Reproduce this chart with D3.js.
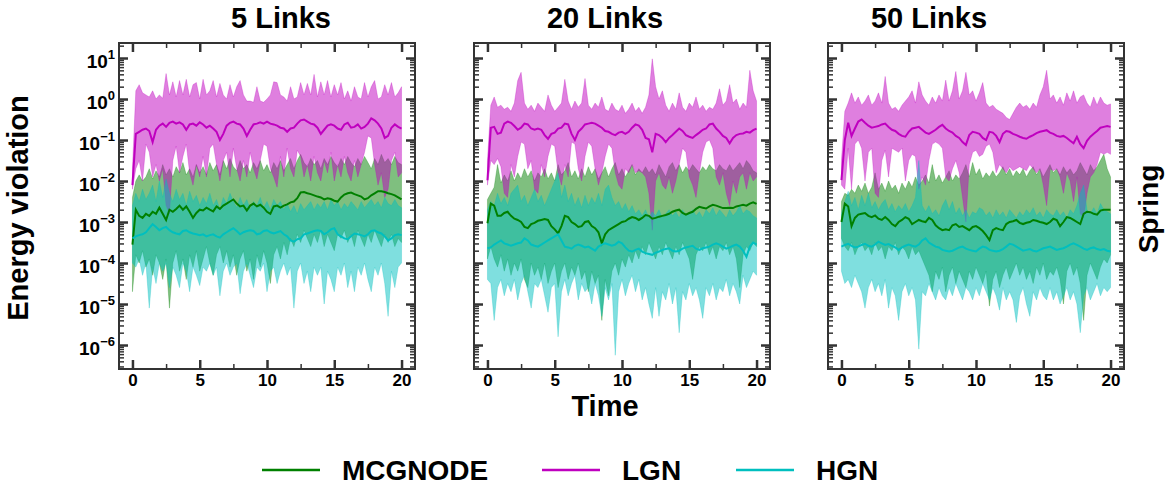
<!DOCTYPE html>
<html>
<head>
<meta charset="utf-8">
<script src="https://cdn.jsdelivr.net/npm/d3@7"></script>
<style>
body { margin: 0; background: #fff; }
text { font-family: "Liberation Sans", Arial, sans-serif; font-weight: bold; fill: #000; }
</style>
</head>
<body>
<svg id="chart" width="1172" height="504"></svg>
<script>
var PANEL_W = 296;
var PANEL_H = 326;
var PANEL_TOP = 43;
var PANEL_LEFT = [119, 474, 828];
var TITLE_X = [281, 605, 929];
var AXIS_COLOR = '#333';

var panelTitles = ['5 Links', '20 Links', '50 Links'];
var models = ['MCGNODE', 'LGN', 'HGN'];
var modelColors = ['#008000', '#bf00bf', '#00bfbf'];
var xTicks = [0, 5, 10, 15, 20];
var xMinorTicks = [2.5, 7.5, 12.5, 17.5];
var yDecades = [-6, -5, -4, -3, -2, -1, 0, 1];

var time = [0, 0.25, 0.5, 0.75, 1, 1.25, 1.5, 1.75, 2, 2.25,
    2.5, 2.75, 3, 3.25, 3.5, 3.75, 4, 4.25, 4.5, 4.75,
    5, 5.25, 5.5, 5.75, 6, 6.25, 6.5, 6.75, 7, 7.25,
    7.5, 7.75, 8, 8.25, 8.5, 8.75, 9, 9.25, 9.5, 9.75,
    10, 10.25, 10.5, 10.75, 11, 11.25, 11.5, 11.75, 12, 12.25,
    12.5, 12.75, 13, 13.25, 13.5, 13.75, 14, 14.25, 14.5, 14.75,
    15, 15.25, 15.5, 15.75, 16, 16.25, 16.5, 16.75, 17, 17.25,
    17.5, 17.75, 18, 18.25, 18.5, 18.75, 19, 19.25, 19.5, 19.75,
    20];

// all series: log10 of the energy violation, median (Mid) and band (Lo / Hi)
// ---- 5 links
var mcg5Mid = [-3.55,-2.7,-2.85,-2.9,-2.8,-2.85,-2.75,-2.8,-2.65,-2.8,
    -2.95,-2.7,-2.75,-2.68,-2.6,-2.7,-2.62,-2.75,-2.9,-2.78,
    -2.7,-2.72,-2.65,-2.7,-2.74,-2.62,-2.68,-2.6,-2.55,-2.5,
    -2.45,-2.55,-2.62,-2.6,-2.72,-2.6,-2.55,-2.62,-2.58,-2.65,
    -2.75,-2.8,-2.62,-2.6,-2.65,-2.6,-2.57,-2.52,-2.5,-2.42,
    -2.28,-2.27,-2.3,-2.32,-2.35,-2.38,-2.4,-2.45,-2.42,-2.44,
    -2.48,-2.5,-2.4,-2.33,-2.3,-2.28,-2.32,-2.35,-2.38,-2.45,
    -2.42,-2.35,-2.3,-2.25,-2.25,-2.27,-2.3,-2.32,-2.35,-2.4,
    -2.45];
var mcg5Hi = [-2.4,-2.0,-1.85,-2.0,-1.9,-1.7,-1.95,-1.75,-1.9,-1.6,
    -1.85,-1.7,-1.9,-1.65,-1.8,-1.55,-1.85,-1.7,-1.9,-1.6,
    -1.8,-1.65,-1.85,-1.55,-1.75,-1.6,-1.85,-1.5,-1.7,-1.45,
    -1.65,-1.75,-1.5,-1.7,-1.6,-1.8,-1.55,-1.7,-1.5,-1.75,
    -1.6,-1.8,-1.55,-1.7,-1.5,-1.75,-1.6,-1.45,-1.7,-1.5,
    -1.35,-1.55,-1.65,-1.45,-1.6,-1.5,-1.7,-1.45,-1.6,-1.4,
    -1.55,-1.65,-1.45,-1.6,-1.4,-1.55,-1.65,-1.45,-1.6,-1.4,
    -1.55,-1.7,-1.45,-1.6,-1.35,-1.55,-1.45,-1.6,-1.4,-1.55,
    -1.6];
var mcg5Lo = [-4.7,-3.8,-4.0,-3.7,-4.1,-3.9,-4.3,-3.8,-4.0,-4.4,
    -3.9,-5.1,-4.0,-3.7,-4.2,-3.9,-4.4,-3.8,-4.1,-3.7,
    -4.2,-3.9,-3.6,-4.0,-4.3,-3.8,-3.6,-4.0,-3.7,-4.1,
    -3.8,-4.3,-3.9,-3.7,-4.2,-3.9,-4.4,-3.8,-4.1,-3.7,
    -4.0,-4.5,-3.8,-3.6,-3.9,-3.5,-3.8,-3.4,-3.6,-3.3,
    -3.5,-3.2,-3.4,-3.6,-3.3,-3.5,-3.2,-3.6,-3.3,-3.5,
    -3.7,-3.3,-3.4,-3.2,-3.5,-3.3,-3.6,-3.2,-3.4,-3.6,
    -3.3,-3.5,-3.2,-3.4,-3.6,-3.3,-3.5,-3.3,-3.6,-3.4,
    -3.5];
var lgn5Mid = [-2.1,-0.85,-0.8,-0.75,-0.72,-0.78,-1.05,-0.75,-0.65,-0.6,
    -0.68,-0.58,-0.55,-0.6,-0.57,-0.62,-0.75,-0.62,-0.6,-0.65,
    -0.57,-0.62,-0.7,-0.65,-0.72,-0.8,-1.0,-0.85,-0.65,-0.58,
    -0.55,-0.6,-0.62,-0.72,-0.9,-0.75,-0.62,-0.6,-0.57,-0.6,
    -0.55,-0.6,-0.62,-0.65,-0.7,-0.72,-0.8,-0.72,-0.7,-0.6,
    -0.52,-0.5,-0.55,-0.6,-0.62,-0.7,-0.85,-0.75,-0.65,-0.62,
    -0.65,-0.72,-0.75,-0.62,-0.58,-0.7,-0.68,-0.62,-0.72,-0.68,
    -0.6,-0.47,-0.52,-0.6,-0.72,-0.95,-0.9,-0.7,-0.62,-0.68,
    -0.72];
var lgn5Hi = [-1.7,0.2,0.35,0.15,0.1,0.05,0.2,0.0,0.1,0.02,
    0.62,0.1,0.42,0.05,0.45,0.1,0.48,0.05,0.35,0.4,
    0.0,0.48,0.1,0.2,0.45,0.05,0.38,0.1,0.0,0.35,
    0.05,0.3,0.45,0.1,-0.05,-0.05,-0.08,0.3,-0.05,-0.08,
    0.0,0.1,0.42,0.4,0.1,0.05,-0.05,0.3,0.0,0.05,
    0.4,0.1,0.38,0.1,0.6,0.05,0.42,0.1,0.45,0.05,
    0.35,0.1,0.4,0.0,0.2,-0.05,0.3,0.05,0.0,0.4,
    0.05,0.3,0.45,0.0,0.05,0.35,0.1,0.4,0.05,0.15,
    0.3];
var lgn5Lo = [-2.2,-1.7,-1.5,-2.0,-1.1,-1.3,-1.9,-1.6,-2.0,-1.7,
    -2.6,-2.8,-1.5,-1.15,-1.8,-1.4,-1.1,-1.8,-2.1,-1.6,
    -1.9,-1.4,-1.9,-1.2,-1.1,-1.6,-2.0,-1.5,-1.3,-1.9,
    -1.2,-1.7,-2.0,-1.5,-1.9,-1.3,-1.7,-1.95,-1.5,-1.1,
    -1.15,-1.7,-1.9,-2.15,-1.4,-1.9,-1.2,-1.7,-1.9,-1.25,
    -1.4,-1.9,-1.6,-2.0,-1.4,-1.8,-2.0,-1.5,-1.8,-1.3,
    -2.0,-1.6,-1.9,-1.4,-1.8,-2.0,-1.5,-1.9,-1.6,-1.3,
    -0.9,-0.95,-1.6,-2.1,-1.8,-2.4,-2.2,-1.5,-1.3,-1.9,
    -1.8];
var hgn5Mid = [-3.4,-3.35,-3.32,-3.3,-3.25,-3.15,-3.05,-3.12,-3.2,-3.15,
    -3.12,-3.2,-3.25,-3.28,-3.3,-3.22,-3.2,-3.25,-3.28,-3.3,
    -3.32,-3.3,-3.35,-3.32,-3.3,-3.35,-3.38,-3.3,-3.25,-3.2,
    -3.15,-3.22,-3.3,-3.25,-3.22,-3.2,-3.22,-3.3,-3.28,-3.22,
    -3.2,-3.25,-3.28,-3.25,-3.22,-3.3,-3.35,-3.45,-3.48,-3.42,
    -3.4,-3.3,-3.28,-3.25,-3.22,-3.2,-3.22,-3.3,-3.25,-3.18,
    -3.15,-3.3,-3.35,-3.4,-3.42,-3.35,-3.28,-3.3,-3.32,-3.35,
    -3.3,-3.22,-3.2,-3.25,-3.28,-3.35,-3.45,-3.4,-3.32,-3.3,
    -3.32];
var hgn5Hi = [-2.6,-2.3,-2.5,-2.2,-2.45,-2.3,-2.1,-2.5,-2.0,-2.4,
    -1.95,-2.3,-2.5,-2.2,-2.45,-2.3,-2.6,-2.25,-2.5,-2.35,
    -2.6,-2.4,-2.55,-2.3,-2.6,-2.45,-2.7,-2.4,-2.55,-2.3,
    -2.5,-2.65,-2.4,-2.6,-2.45,-2.7,-2.5,-2.6,-2.4,-2.65,
    -2.5,-2.7,-2.45,-2.6,-2.5,-2.7,-2.55,-2.75,-2.6,-2.8,
    -2.55,-2.7,-2.6,-2.5,-2.7,-2.55,-2.65,-2.5,-2.7,-2.45,
    -2.6,-2.5,-2.7,-2.55,-2.65,-2.5,-2.6,-2.7,-2.5,-2.65,
    -2.55,-2.45,-2.6,-2.5,-2.65,-2.4,-2.55,-2.6,-2.45,-2.6,
    -2.65];
var hgn5Lo = [-4.0,-4.1,-3.9,-4.3,-4.0,-5.1,-4.1,-4.5,-4.0,-4.2,
    -4.0,-4.6,-4.1,-4.3,-4.6,-4.0,-4.2,-4.7,-4.1,-4.3,
    -4.55,-4.1,-4.2,-4.0,-4.3,-4.1,-4.8,-4.2,-4.0,-4.3,
    -4.1,-4.0,-4.75,-4.2,-4.0,-4.3,-4.6,-4.1,-4.2,-4.0,
    -4.7,-4.2,-4.1,-4.5,-4.2,-4.0,-4.3,-4.1,-5.1,-4.2,
    -4.0,-4.5,-4.2,-4.7,-4.1,-4.3,-4.1,-5.0,-4.2,-4.4,
    -4.7,-4.1,-4.3,-4.0,-4.6,-4.2,-4.7,-4.1,-4.3,-4.0,
    -4.4,-4.7,-4.1,-4.3,-4.0,-4.5,-5.3,-4.2,-4.6,-4.1,
    -4.0];

// ---- 20 links
var mcg20Mid = [-3.03,-2.55,-2.6,-2.85,-2.85,-2.78,-2.75,-2.85,-2.92,-2.95,
    -3.0,-3.12,-3.15,-3.05,-3.02,-2.97,-2.95,-2.93,-2.95,-3.1,
    -3.18,-3.28,-3.1,-2.85,-2.88,-3.0,-3.05,-3.12,-3.1,-3.0,
    -2.98,-3.1,-3.15,-3.25,-3.52,-3.3,-3.2,-3.15,-3.1,-3.05,
    -3.0,-2.98,-2.92,-2.88,-2.9,-2.95,-2.9,-2.83,-2.85,-2.92,
    -2.9,-2.87,-2.85,-2.83,-2.8,-2.75,-2.72,-2.7,-2.78,-2.82,
    -2.78,-2.75,-2.68,-2.63,-2.65,-2.67,-2.62,-2.58,-2.6,-2.63,
    -2.66,-2.66,-2.65,-2.66,-2.62,-2.6,-2.58,-2.6,-2.55,-2.52,
    -2.56];
var mcg20Hi = [-2.45,-2.3,-2.15,-1.6,-2.05,-1.85,-2.0,-1.75,-2.0,-1.8,
    -1.95,-1.7,-1.9,-1.75,-2.0,-1.8,-1.9,-1.7,-1.95,-1.8,
    -2.0,-1.6,-1.85,-1.75,-1.55,-1.9,-1.75,-1.95,-1.7,-1.9,
    -1.65,-1.85,-1.7,-1.95,-1.8,-1.65,-1.9,-1.7,-1.55,-1.85,
    -1.7,-1.9,-1.75,-1.6,-1.85,-1.7,-1.8,-1.65,-1.8,-1.7,
    -1.85,-1.6,-1.75,-1.9,-1.65,-1.55,-1.75,-1.6,-1.8,-1.65,
    -1.75,-1.6,-1.7,-1.8,-1.65,-1.75,-1.6,-1.7,-1.75,-1.6,
    -1.7,-1.75,-1.6,-1.75,-1.65,-1.55,-1.7,-1.5,-1.6,-1.75,
    -1.8];
var mcg20Lo = [-3.9,-3.6,-3.9,-4.1,-3.8,-4.2,-3.9,-4.3,-4.0,-4.2,
    -3.9,-4.4,-4.6,-4.0,-4.3,-4.1,-4.4,-4.0,-4.5,-4.2,
    -4.0,-4.6,-4.2,-4.0,-4.4,-4.1,-4.3,-4.0,-4.4,-4.2,
    -4.7,-4.2,-4.5,-4.3,-5.4,-4.4,-4.8,-4.2,-4.0,-4.3,
    -3.9,-4.1,-3.8,-4.0,-3.7,-3.9,-3.6,-3.8,-3.5,-3.7,
    -3.9,-3.6,-3.8,-3.5,-3.7,-3.9,-3.6,-3.8,-3.5,-3.7,
    -3.9,-4.4,-3.8,-3.6,-3.7,-3.5,-3.8,-3.6,-3.9,-3.6,
    -3.7,-3.5,-3.8,-3.6,-3.9,-4.6,-3.8,-3.6,-3.7,-3.5,
    -3.6];
var lgn20Mid = [-1.98,-0.7,-0.68,-0.85,-0.82,-0.6,-0.55,-0.58,-0.66,-0.75,
    -0.7,-0.6,-0.62,-0.72,-0.75,-0.72,-0.75,-0.88,-0.97,-0.85,
    -0.82,-0.72,-0.7,-0.6,-0.62,-0.85,-1.0,-0.8,-0.72,-0.62,
    -0.6,-0.58,-0.6,-0.65,-0.7,-0.78,-0.8,-0.85,-0.88,-0.82,
    -0.8,-0.85,-0.8,-0.7,-0.62,-0.65,-0.75,-0.95,-0.98,-1.3,
    -0.85,-0.88,-0.95,-1.05,-0.95,-0.88,-0.8,-0.72,-0.78,-0.88,
    -0.92,-0.95,-0.88,-0.82,-0.75,-0.72,-0.62,-0.6,-0.72,-0.8,
    -0.9,-0.95,-1.08,-0.95,-0.88,-0.85,-0.84,-0.8,-0.82,-0.76,
    -0.72];
var lgn20Hi = [-1.5,-0.15,0.05,-0.2,-0.15,-0.25,-0.2,-0.3,-0.1,0.45,
    0.65,-0.1,-0.25,-0.15,-0.3,-0.1,-0.2,-0.3,0.1,-0.15,
    -0.3,-0.2,-0.1,0.48,-0.05,-0.25,-0.05,-0.2,-0.1,0.5,
    -0.15,-0.25,-0.1,-0.2,0.05,-0.25,-0.3,-0.1,-0.25,-0.3,
    -0.15,-0.35,-0.25,-0.1,-0.3,-0.2,-0.35,-0.2,0.1,0.98,
    0.3,0.0,0.2,-0.15,-0.3,-0.1,-0.25,0.15,-0.2,-0.3,
    -0.1,-0.2,0.05,-0.25,-0.15,-0.3,-0.2,-0.25,-0.1,0.25,
    -0.15,-0.05,0.35,-0.1,0.0,-0.25,-0.1,-0.2,0.7,0.2,
    -0.05];
var lgn20Lo = [-2.1,-1.5,-1.6,-1.45,-1.65,-2.3,-2.4,-1.6,-1.9,-1.4,
    -1.05,-1.1,-1.7,-1.5,-2.2,-2.3,-1.6,-1.9,-1.4,-1.1,
    -1.15,-1.8,-2.1,-1.6,-1.9,-1.05,-1.1,-1.7,-2.0,-1.4,
    -1.05,-1.15,-1.7,-2.1,-1.8,-1.4,-1.1,-1.2,-1.8,-2.1,
    -2.2,-1.7,-1.8,-1.6,-1.8,-1.75,-1.8,-1.9,-2.3,-3.2,
    -2.0,-1.8,-2.1,-2.2,-1.9,-2.3,-2.0,-1.6,-1.2,-1.3,
    -1.9,-2.1,-2.4,-1.8,-1.3,-1.05,-1.0,-1.2,-1.9,-2.1,
    -1.8,-2.3,-2.6,-2.0,-2.3,-1.9,-1.8,-2.2,-1.8,-2.0,
    -1.9];
var hgn20Mid = [-3.64,-3.62,-3.55,-3.5,-3.45,-3.52,-3.55,-3.58,-3.55,-3.52,
    -3.5,-3.4,-3.45,-3.55,-3.58,-3.6,-3.55,-3.5,-3.45,-3.4,
    -3.35,-3.3,-3.45,-3.6,-3.62,-3.65,-3.58,-3.55,-3.58,-3.62,
    -3.6,-3.65,-3.7,-3.6,-3.55,-3.52,-3.55,-3.58,-3.55,-3.48,
    -3.52,-3.62,-3.7,-3.72,-3.68,-3.65,-3.72,-3.76,-3.78,-3.8,
    -3.75,-3.72,-3.68,-3.66,-3.64,-3.7,-3.72,-3.7,-3.65,-3.62,
    -3.6,-3.58,-3.65,-3.68,-3.64,-3.62,-3.6,-3.55,-3.52,-3.55,
    -3.6,-3.65,-3.62,-3.58,-3.55,-3.6,-3.7,-3.85,-3.6,-3.5,
    -3.55];
var hgn20Hi = [-2.7,-2.5,-2.6,-2.3,-2.55,-2.4,-2.6,-2.3,-2.2,-2.1,
    -2.5,-2.35,-2.6,-2.4,-2.2,-2.5,-2.35,-2.6,-2.4,-2.2,
    -2.0,-1.8,-2.4,-2.1,-2.5,-2.3,-2.6,-2.4,-2.65,-2.35,
    -2.6,-2.4,-2.55,-2.3,-2.6,-2.2,-2.1,-2.4,-2.6,-2.5,
    -2.7,-2.55,-2.75,-2.6,-2.8,-2.7,-2.85,-2.7,-2.9,-2.75,
    -2.85,-2.7,-2.9,-2.8,-2.7,-2.85,-2.75,-2.9,-2.7,-2.85,
    -2.8,-2.7,-2.85,-2.75,-2.9,-2.7,-2.8,-2.65,-2.85,-2.7,
    -2.8,-2.9,-2.7,-2.85,-2.75,-2.6,-2.8,-2.7,-2.75,-2.85,
    -2.9];
var hgn20Lo = [-4.4,-4.5,-5.4,-4.6,-4.4,-4.8,-4.5,-4.7,-4.4,-4.9,
    -4.5,-4.3,-4.7,-5.1,-4.5,-4.6,-4.4,-4.8,-5.2,-4.6,
    -4.5,-5.8,-4.7,-4.4,-4.8,-4.5,-4.3,-4.9,-4.5,-4.7,
    -4.6,-5.0,-4.5,-4.8,-5.3,-4.6,-4.9,-4.5,-6.25,-4.7,
    -4.4,-4.8,-4.5,-4.3,-4.7,-4.4,-4.9,-4.6,-5.0,-5.35,
    -4.6,-5.3,-4.7,-4.9,-4.5,-5.0,-4.6,-5.7,-4.7,-4.9,
    -4.5,-4.8,-4.6,-4.9,-5.35,-4.6,-4.8,-4.5,-4.9,-4.6,
    -4.7,-4.4,-4.8,-4.5,-4.7,-5.0,-4.3,-4.6,-4.4,-4.2,
    -4.3];

// ---- 50 links
var mcg50Mid = [-3.0,-2.55,-2.62,-3.1,-2.9,-2.82,-2.8,-2.78,-2.85,-2.88,
    -2.84,-2.92,-2.95,-2.88,-2.95,-3.05,-3.1,-3.0,-2.95,-2.88,
    -2.92,-3.05,-3.0,-2.95,-2.98,-3.0,-2.9,-2.95,-3.08,-3.15,
    -3.2,-3.18,-3.2,-3.08,-3.05,-3.12,-3.1,-3.15,-3.2,-3.12,
    -3.1,-3.15,-3.22,-3.32,-3.44,-3.2,-3.15,-3.18,-3.2,-3.05,
    -3.0,-2.98,-2.95,-3.02,-3.05,-3.02,-3.0,-2.95,-2.97,-3.0,
    -3.02,-3.05,-3.0,-2.92,-2.95,-3.1,-3.0,-2.88,-2.9,-2.95,
    -3.0,-3.05,-2.8,-2.75,-2.76,-2.8,-2.82,-2.72,-2.7,-2.7,
    -2.7];
var mcg50Hi = [-2.5,-2.3,-2.35,-2.2,-2.3,-2.1,-2.25,-2.05,-2.3,-2.15,
    -1.8,-2.2,-2.05,-2.25,-2.0,-2.2,-2.1,-2.3,-2.05,-2.2,
    -2.0,-2.15,-1.9,-2.1,-2.0,-1.85,-2.05,-1.6,-2.0,-1.85,
    -2.05,-1.9,-1.75,-2.0,-1.85,-1.95,-1.8,-1.6,-1.9,-1.55,
    -1.85,-1.7,-1.95,-1.8,-1.9,-1.75,-1.9,-1.8,-1.65,-1.85,
    -1.7,-1.9,-1.75,-1.85,-1.7,-1.9,-1.75,-1.65,-1.85,-1.7,
    -1.9,-1.75,-1.6,-1.8,-1.7,-1.85,-1.65,-1.8,-1.7,-1.85,
    -1.75,-1.55,-1.7,-1.85,-1.6,-1.75,-1.65,-1.5,-1.35,-1.7,
    -1.9];
var mcg50Lo = [-3.4,-3.6,-3.7,-3.5,-3.8,-3.6,-3.5,-3.7,-3.6,-3.8,
    -3.5,-3.7,-3.6,-3.9,-3.6,-3.7,-3.5,-3.8,-3.6,-3.7,
    -3.9,-3.6,-3.8,-3.7,-3.9,-4.1,-4.3,-4.7,-4.2,-4.4,
    -4.1,-4.7,-4.3,-4.1,-4.5,-4.2,-4.4,-4.6,-4.2,-4.4,
    -4.1,-4.3,-4.5,-4.2,-5.05,-4.4,-4.2,-4.6,-4.3,-4.1,
    -4.4,-4.2,-4.0,-4.3,-4.1,-4.4,-4.2,-4.5,-4.1,-4.3,
    -4.0,-4.4,-4.2,-4.3,-4.1,-4.4,-5.0,-4.2,-4.0,-4.3,
    -4.1,-4.5,-5.4,-4.3,-4.0,-4.2,-4.4,-4.1,-3.9,-4.0,
    -3.8];
var lgn50Mid = [-1.98,-1.0,-0.58,-0.9,-0.72,-0.55,-0.5,-0.58,-0.65,-0.7,
    -0.68,-0.66,-0.62,-0.6,-0.68,-0.75,-0.78,-0.85,-0.9,-0.92,
    -0.8,-0.72,-0.7,-0.68,-0.75,-0.82,-0.85,-0.8,-0.75,-0.68,
    -0.63,-0.72,-0.78,-0.82,-0.9,-0.95,-1.05,-1.12,-0.88,-0.8,
    -0.82,-0.85,-0.95,-1.0,-0.8,-0.82,-0.9,-1.05,-0.85,-0.78,
    -0.8,-0.85,-0.88,-0.92,-0.95,-0.97,-0.92,-0.88,-0.83,-0.8,
    -0.78,-0.76,-0.82,-0.85,-0.9,-0.92,-0.9,-0.95,-1.02,-1.08,
    -0.92,-1.1,-1.2,-1.02,-0.92,-0.85,-0.78,-0.7,-0.68,-0.66,
    -0.68];
var lgn50Hi = [-1.5,-0.3,-0.1,0.15,-0.1,0.05,-0.15,-0.05,0.1,-0.15,
    -0.05,0.15,-0.1,0.55,-0.1,-0.25,-0.2,-0.3,-0.15,-0.05,
    0.05,0.2,-0.1,0.42,0.1,-0.05,-0.15,0.05,-0.1,0.1,
    -0.05,0.46,-0.05,0.2,0.67,0.0,0.2,0.65,0.1,0.2,
    -0.05,0.15,0.4,-0.1,-0.2,-0.15,-0.25,-0.3,-0.35,-0.45,
    -0.5,-0.35,-0.2,-0.1,-0.2,-0.15,-0.25,-0.1,-0.2,0.1,
    0.3,0.7,0.0,0.1,-0.1,0.05,-0.15,0.15,-0.05,0.2,
    -0.1,0.05,0.1,-0.1,-0.2,0.05,-0.15,0.05,-0.1,-0.15,
    -0.12];
var lgn50Lo = [-2.1,-2.2,-1.2,-2.2,-1.1,-1.0,-1.2,-2.0,-1.3,-1.2,
    -2.3,-2.4,-1.5,-1.25,-1.9,-1.2,-1.25,-1.3,-1.2,-2.0,
    -1.5,-1.35,-1.4,-2.2,-1.9,-2.1,-1.5,-1.1,-1.05,-1.1,
    -1.2,-1.9,-2.0,-1.7,-1.5,-1.8,-2.4,-3.0,-1.6,-1.3,
    -1.25,-1.4,-1.35,-1.15,-1.1,-1.3,-1.8,-1.6,-1.7,-1.8,
    -1.65,-1.75,-1.7,-1.65,-1.7,-1.75,-1.6,-1.7,-1.8,-1.7,
    -2.1,-2.6,-1.7,-1.75,-1.7,-1.9,-2.3,-1.8,-2.0,-2.5,
    -1.9,-2.8,-2.9,-2.3,-1.9,-1.8,-1.6,-1.3,-1.35,-1.3,
    -1.35];
var hgn50Mid = [-3.6,-3.56,-3.53,-3.58,-3.62,-3.6,-3.56,-3.53,-3.58,-3.6,
    -3.55,-3.48,-3.52,-3.56,-3.54,-3.58,-3.62,-3.68,-3.62,-3.58,
    -3.55,-3.58,-3.6,-3.55,-3.45,-3.4,-3.5,-3.55,-3.6,-3.62,
    -3.68,-3.7,-3.72,-3.7,-3.66,-3.62,-3.6,-3.65,-3.68,-3.7,
    -3.72,-3.65,-3.6,-3.62,-3.68,-3.7,-3.72,-3.7,-3.66,-3.6,
    -3.53,-3.55,-3.6,-3.65,-3.7,-3.68,-3.66,-3.7,-3.72,-3.68,
    -3.64,-3.62,-3.6,-3.64,-3.68,-3.66,-3.64,-3.6,-3.55,-3.52,
    -3.56,-3.6,-3.65,-3.68,-3.64,-3.62,-3.66,-3.68,-3.66,-3.7,
    -3.72];
var hgn50Hi = [-2.8,-2.5,-2.25,-2.6,-2.4,-2.7,-2.35,-2.6,-2.3,-2.65,
    -2.5,-2.7,-2.55,-2.45,-2.7,-2.55,-2.75,-2.6,-2.7,-2.55,
    -2.75,-2.6,-2.4,-1.5,-2.6,-2.75,-2.6,-2.8,-2.7,-2.85,
    -2.6,-2.45,-2.7,-2.5,-2.8,-2.65,-2.85,-2.7,-2.9,-2.75,
    -2.8,-2.65,-2.7,-2.85,-2.75,-2.9,-2.7,-2.85,-2.75,-2.9,
    -2.7,-2.8,-2.9,-2.75,-2.85,-2.7,-2.8,-2.65,-2.85,-2.75,
    -2.9,-2.7,-2.8,-2.85,-2.7,-2.85,-2.75,-2.9,-2.7,-2.8,
    -2.6,-2.3,-2.1,-2.7,-2.8,-2.65,-2.8,-2.55,-2.7,-2.75,
    -2.8];
var hgn50Lo = [-4.2,-4.5,-4.4,-4.6,-4.3,-4.5,-4.7,-5.1,-4.6,-4.4,
    -4.7,-4.5,-4.8,-4.4,-5.1,-4.6,-4.8,-5.4,-4.7,-4.5,
    -4.8,-4.6,-4.9,-6.1,-4.7,-4.8,-4.5,-4.7,-4.9,-4.6,
    -4.8,-4.9,-4.6,-4.8,-4.5,-4.7,-4.9,-4.6,-4.7,-4.9,
    -4.6,-4.8,-4.5,-4.7,-4.9,-4.6,-4.8,-5.15,-4.6,-4.9,
    -4.7,-4.9,-5.45,-4.8,-4.6,-5.0,-5.3,-4.7,-4.9,-4.6,
    -4.8,-4.9,-4.6,-4.9,-4.7,-5.0,-4.8,-4.6,-4.9,-4.7,
    -5.0,-5.7,-4.8,-4.6,-4.9,-4.7,-4.5,-4.8,-4.6,-4.7,
    -4.6];

var panels = [
    [[mcg5Mid, mcg5Lo, mcg5Hi], [lgn5Mid, lgn5Lo, lgn5Hi], [hgn5Mid, hgn5Lo, hgn5Hi]],
    [[mcg20Mid, mcg20Lo, mcg20Hi], [lgn20Mid, lgn20Lo, lgn20Hi], [hgn20Mid, hgn20Lo, hgn20Hi]],
    [[mcg50Mid, mcg50Lo, mcg50Hi], [lgn50Mid, lgn50Lo, lgn50Hi], [hgn50Mid, hgn50Lo, hgn50Hi]]
];

var svg = d3.select('#chart');
var x = d3.scaleLinear().domain([-1, 21]).range([0, PANEL_W]);
var y = d3.scaleLog()
    .domain([Math.pow(10, -6.585), Math.pow(10, 1.366)])
    .range([PANEL_H, 0]);

function pow10(v) { return Math.pow(10, v); }

// minor ticks of the log axis: 2..9 times each decade, inside the domain
var yMinorTicks = [];
for (var d = -7; d <= 1; d++) {
    for (var k = 2; k <= 9; k++) {
        var v = k * pow10(d);
        if (v > y.domain()[0] && v < y.domain()[1]) yMinorTicks.push(v);
    }
}
var yMajorTicks = yDecades.map(pow10);

panels.forEach(function (series, p) {
    var g = svg.append('g')
        .attr('transform', 'translate(' + PANEL_LEFT[p] + ',' + PANEL_TOP + ')');

    g.append('clipPath').attr('id', 'clip' + p)
        .append('rect').attr('width', PANEL_W).attr('height', PANEL_H);

    var plot = g.append('g').attr('clip-path', 'url(#clip' + p + ')');

    // bands first, then the medians on top
    series.forEach(function (s, m) {
        var band = d3.area()
            .x(function (d, i) { return x(time[i]); })
            .y0(function (d, i) { return y(pow10(s[1][i])); })
            .y1(function (d, i) { return y(pow10(s[2][i])); });
        plot.append('path')
            .datum(s[0])
            .attr('d', band)
            .style('fill', modelColors[m])
            .style('fill-opacity', 0.5)
            .style('stroke', modelColors[m])
            .style('stroke-opacity', 0.35)
            .style('stroke-width', 0.8);
    });
    series.forEach(function (s, m) {
        var line = d3.line()
            .x(function (d, i) { return x(time[i]); })
            .y(function (d) { return y(pow10(d)); });
        plot.append('path')
            .datum(s[0])
            .attr('d', line)
            .style('fill', 'none')
            .style('stroke', modelColors[m])
            .style('stroke-width', 2);
    });

    // ticks point inward on all four sides
    var axes = [
        [d3.axisBottom(x).tickValues(xTicks).tickSize(-9), 'translate(0,' + PANEL_H + ')', true],
        [d3.axisBottom(x).tickValues(xMinorTicks).tickSize(-5), 'translate(0,' + PANEL_H + ')', false],
        [d3.axisTop(x).tickValues(xTicks).tickSize(-9), null, false],
        [d3.axisTop(x).tickValues(xMinorTicks).tickSize(-5), null, false],
        [d3.axisLeft(y).tickValues(yMajorTicks).tickSize(-9), null, false],
        [d3.axisLeft(y).tickValues(yMinorTicks).tickSize(-5), null, false],
        [d3.axisRight(y).tickValues(yMajorTicks).tickSize(-9), 'translate(' + PANEL_W + ',0)', false],
        [d3.axisRight(y).tickValues(yMinorTicks).tickSize(-5), 'translate(' + PANEL_W + ',0)', false]
    ];
    axes.forEach(function (a) {
        var ax = g.append('g').attr('transform', a[1]);
        ax.call(a[0].tickSizeOuter(0).tickPadding(5));
        ax.select('.domain').remove();
        var major = a[0].tickSizeInner() === -9;
        ax.selectAll('.tick line')
            .style('stroke', AXIS_COLOR)
            .style('stroke-width', major ? 2.5 : 1.5);
        if (a[2]) {
            ax.selectAll('.tick text')
                .style('font-size', '17px')
                .style('font-family', '"Liberation Sans", Arial, sans-serif')
                .style('font-weight', 'bold')
                .style('fill', '#000');
        } else {
            ax.selectAll('.tick text').remove();
        }
    });

    g.append('rect')
        .attr('width', PANEL_W)
        .attr('height', PANEL_H)
        .style('fill', 'none')
        .style('stroke', AXIS_COLOR)
        .style('stroke-width', 2);

    svg.append('text')
        .attr('x', TITLE_X[p])
        .attr('y', 28)
        .attr('text-anchor', 'middle')
        .style('font-size', '29px')
        .text(panelTitles[p]);

    // shared y axis: labels only on the first panel
    if (p === 0) {
        var lab = g.selectAll('.ylab')
            .data(yDecades)
            .enter()
            .append('text')
            .attr('class', 'ylab')
            .attr('text-anchor', 'end')
            .attr('x', -4)
            .attr('y', function (e) { return y(pow10(e)) + 10; })
            .style('font-size', '19px');
        lab.append('tspan').text('10');
        lab.append('tspan')
            .attr('dy', -9)
            .style('font-size', '13px')
            .text(function (e) { return e < 0 ? '\u2212' + (-e) : String(e); });
    }
});

svg.append('text')
    .attr('transform', 'translate(28,208) rotate(-90)')
    .attr('text-anchor', 'middle')
    .style('font-size', '29px')
    .text('Energy violation');

svg.append('text')
    .attr('x', 605)
    .attr('y', 416)
    .attr('text-anchor', 'middle')
    .style('font-size', '29px')
    .text('Time');

svg.append('text')
    .attr('transform', 'translate(1158,209) rotate(-90)')
    .attr('text-anchor', 'middle')
    .style('font-size', '28px')
    .text('Spring');

// legend
var LEGEND_X = [262, 542, 736];
var legend = svg.selectAll('.legend')
    .data(models)
    .enter()
    .append('g')
    .attr('class', 'legend')
    .attr('transform', function (d, i) { return 'translate(' + LEGEND_X[i] + ',470)'; });
legend.append('line')
    .attr('x1', 0)
    .attr('x2', 58)
    .style('stroke', function (d, i) { return modelColors[i]; })
    .style('stroke-width', 2.5);
legend.append('text')
    .attr('x', 80)
    .attr('y', 10)
    .style('font-size', '28px')
    .text(function (d) { return d; });
</script>
</body>
</html>
